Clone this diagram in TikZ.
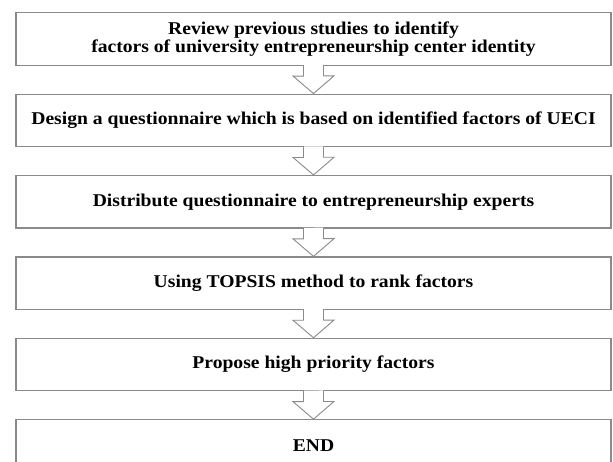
\documentclass[tikz,border=0pt]{standalone}
\usepackage{fontspec}
\setmainfont{Liberation Serif}
\newfontfamily\stagefont[FakeStretch=1.09]{Liberation Serif}
\usepackage{tikz}
\usetikzlibrary{positioning}

\definecolor{boxline}{HTML}{8A8A8A}

\tikzset{
  stage/.style={draw=boxline, line width=1.2pt, rectangle, fill=white,
    minimum width=595pt, minimum height=52.5pt, align=center,
    font=\stagefont\fontsize{18}{18.5}\selectfont\bfseries},
  flowarrow/.style={draw=boxline, line width=0.9pt, fill=white, line join=miter}
}

\begin{document}
\begin{tikzpicture}[x=1pt, y=-1pt, node distance=27.7pt]
  \clip (0,0) rectangle (613,461);
  \fill[white] (0,0) rectangle (613,461);

  \node[stage] (review) at (313.5,39)
    {Review previous studies to identify\\factors of university entrepreneurship center identity};
  \node[stage] (design) [below = of review]
    {Design a questionnaire which is based on identified factors of UECI};
  \node[stage] (distribute) [below = of design]
    {Distribute questionnaire to entrepreneurship experts};
  \node[stage] (topsis) [below = of distribute]
    {Using TOPSIS method to rank factors};
  \node[stage] (propose) [below = of topsis]
    {Propose high priority factors};
  \node[stage] (end) [below = of propose] {END};

  % hollow block arrows between the stages
  \foreach \a/\b in {review/design, design/distribute, distribute/topsis,
                     topsis/propose, propose/end}
    \draw[flowarrow] (\a.south) ++(-10,-0.8) -- ++(0,11) -- ++(-10.5,0)
      -- (\b.north) -- ++(20.5,-17.7) -- ++(-10.5,0) -- ++(0,-11);

\end{tikzpicture}
\end{document}
